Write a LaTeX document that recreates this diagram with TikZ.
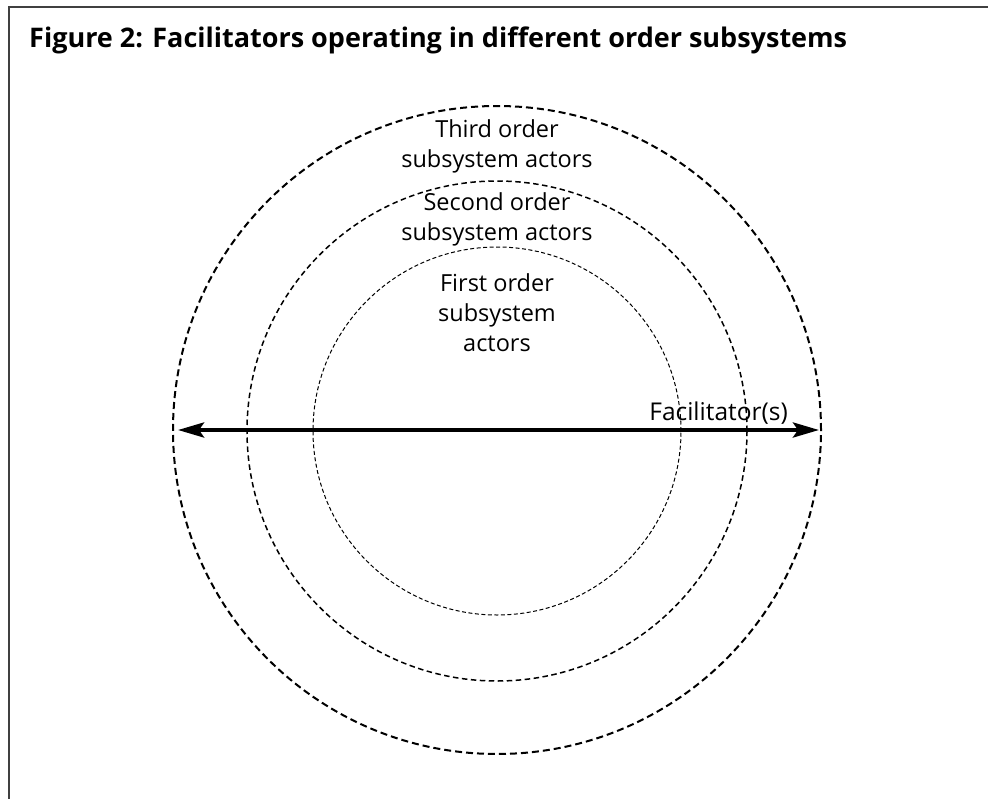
\documentclass[tikz,border=0pt]{standalone}
\usepackage{fontspec}
\setmainfont{Open Sans}
\usetikzlibrary{arrows.meta}
\begin{document}
\begin{tikzpicture}[x=1pt,y=-1pt,
  ring/.style={circle,draw=black,inner sep=0pt},
  ringA/.style={ring,line width=2pt,dash pattern=on 7pt off 4pt,minimum size=648pt},
  ringB/.style={ring,line width=1.5pt,dash pattern=on 5.5pt off 3.5pt,minimum size=500pt},
  ringC/.style={ring,line width=1pt,dash pattern=on 4pt off 2.5pt,minimum size=368pt},
  lbl/.style={align=center,font=\fontsize{23.5}{30}\selectfont,inner sep=0pt},
  frame/.style={draw=black!75,line width=2pt},
  facarrow/.style={line width=4pt,{Stealth[length=26pt,width=15pt,inset=5pt]}-{Stealth[length=26pt,width=15pt,inset=5pt]}}
]
\useasboundingbox (0,0) rectangle (988,798);
\draw[frame] (9,799) -- (9,7) -- (989,7);
\node[anchor=base west,inner sep=0pt,font=\bfseries\fontsize{27}{31}\selectfont] (title) at (29,47) {Figure 2: Facilitators operating in different order subsystems};
\node[ringA] (outer) at (497,430) {};
\node[ringB] (middle) at (497,431) {};
\node[ringC] (inner) at (497,431) {};
\node[lbl,anchor=base] (third) at (497,167) {Third order\\subsystem actors};
\node[lbl,anchor=base] (second) at (497,240) {Second order\\subsystem actors};
\node[lbl,anchor=base] (first) at (497,351) {First order\\subsystem\\actors};
\node[lbl,anchor=base east,font=\fontsize{24.5}{30}\selectfont] (fac) at (788,420) {Facilitator(s)};
\coordinate (lefttip) at (178,430);
\coordinate (righttip) at (819,430);
\draw[facarrow] (lefttip) -- (righttip);
\end{tikzpicture}
\end{document}
